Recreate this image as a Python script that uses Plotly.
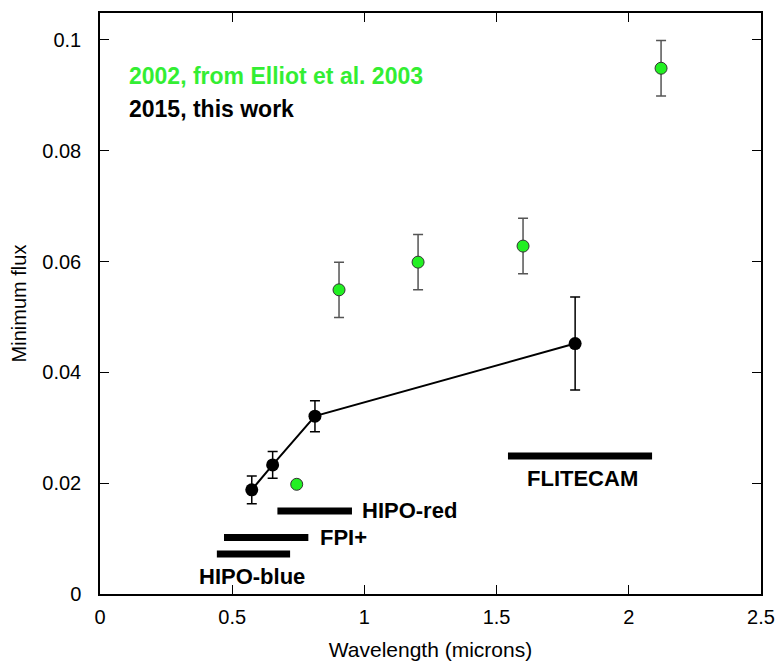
import plotly.graph_objects as go

# 2015, this work
x15 = [0.574, 0.653, 0.813, 1.797]
y15 = [0.0188, 0.0233, 0.0321, 0.0452]
e15 = [0.0025, 0.0024, 0.0028, 0.0084]

# 2002, Elliot et al. 2003
x02 = [0.744, 0.904, 1.203, 1.600, 2.122]
y02 = [0.0198, 0.0549, 0.0599, 0.0628, 0.0949]
e02 = [0.0, 0.005, 0.005, 0.005, 0.005]

# instrument ranges
inst_names = ["HIPO-blue", "FPI+", "HIPO-red", "FLITECAM"]
inst_start = [0.442, 0.469, 0.671, 1.543]
inst_end = [0.719, 0.788, 0.953, 2.088]
inst_y = [0.0072, 0.0102, 0.0150, 0.0249]

FONT = "Liberation Sans, Arial, sans-serif"

fig = go.Figure()

for n, s, e, y in zip(inst_names, inst_start, inst_end, inst_y):
    fig.add_trace(go.Scatter(x=[s, e], y=[y, y], mode="lines",
                             line=dict(color="black", width=7), showlegend=False,
                             hoverinfo="skip"))

fig.add_trace(go.Scatter(x=x02, y=y02, mode="markers",
                         error_y=dict(type="data", array=e02, color="#555555", thickness=1.5, width=5),
                         marker=dict(color="#22f022", size=12, line=dict(color="#333333", width=1)),
                         showlegend=False))

fig.add_trace(go.Scatter(x=x15, y=y15, mode="lines+markers",
                         error_y=dict(type="data", array=e15, color="black", thickness=1.5, width=5),
                         line=dict(color="black", width=2),
                         marker=dict(color="black", size=13),
                         showlegend=False))

# instrument labels
label_pos = {
    "HIPO-blue": dict(x=0.575, y=0.0031, xanchor="center"),
    "FPI+": dict(x=0.824, y=inst_y[1], xanchor="left"),
    "HIPO-red": dict(x=0.983, y=inst_y[2], xanchor="left"),
    "FLITECAM": dict(x=1.823, y=0.0209, xanchor="center"),
}
for n in inst_names:
    p = label_pos[n]
    fig.add_annotation(x=p["x"], y=p["y"], text="<b>%s</b>" % n, showarrow=False,
                       xanchor=p["xanchor"], yanchor="middle",
                       font=dict(family=FONT, size=22, color="black"))

fig.add_annotation(x=0.102, y=0.0935, text="<b>2002, from Elliot et al. 2003</b>", showarrow=False,
                   xanchor="left", yanchor="middle", font=dict(family=FONT, size=23, color="#33ee33"))
fig.add_annotation(x=0.102, y=0.0875, text="<b>2015, this work</b>", showarrow=False,
                   xanchor="left", yanchor="middle", font=dict(family=FONT, size=23, color="black"))

axis_common = dict(showline=True, linecolor="black", linewidth=1.5, mirror="ticks",
                   ticks="inside", ticklen=9, tickwidth=1.2, tickcolor="black",
                   showgrid=False, zeroline=False, ticklabeloverflow="allow",
                   automargin=False,
                   tickfont=dict(family=FONT, size=20, color="black"))

fig.update_layout(
    width=777, height=664, autosize=False,
    margin=dict(l=100, r=16, t=13, b=70),
    paper_bgcolor="white", plot_bgcolor="white",
    xaxis=dict(range=[0, 2.5], tickvals=[0, 0.5, 1, 1.5, 2, 2.5],
               ticktext=["0", "0.5", "1", "1.5", "2", "2.5"],
               ticklabelstandoff=4,
               title=dict(text="Wavelength (microns)", font=dict(family=FONT, size=21, color="black"), standoff=16),
               **axis_common),
    yaxis=dict(range=[0, 0.10487], tickvals=[0, 0.02, 0.04, 0.06, 0.08, 0.1],
               ticktext=["0", "0.02", "0.04", "0.06", "0.08", "0.1"],
               ticklabelstandoff=13,
               title=dict(text="Minimum flux", font=dict(family=FONT, size=20, color="black"), standoff=10),
               **axis_common),
)

post = ("document.body.style.margin='0';document.body.style.overflow='hidden';"
        "var gd=document.getElementById('{plot_id}');"
        "Plotly.relayout(gd,{width:777,height:664});")

fig.write_html("out.html", config={"responsive": False}, post_script=post)
